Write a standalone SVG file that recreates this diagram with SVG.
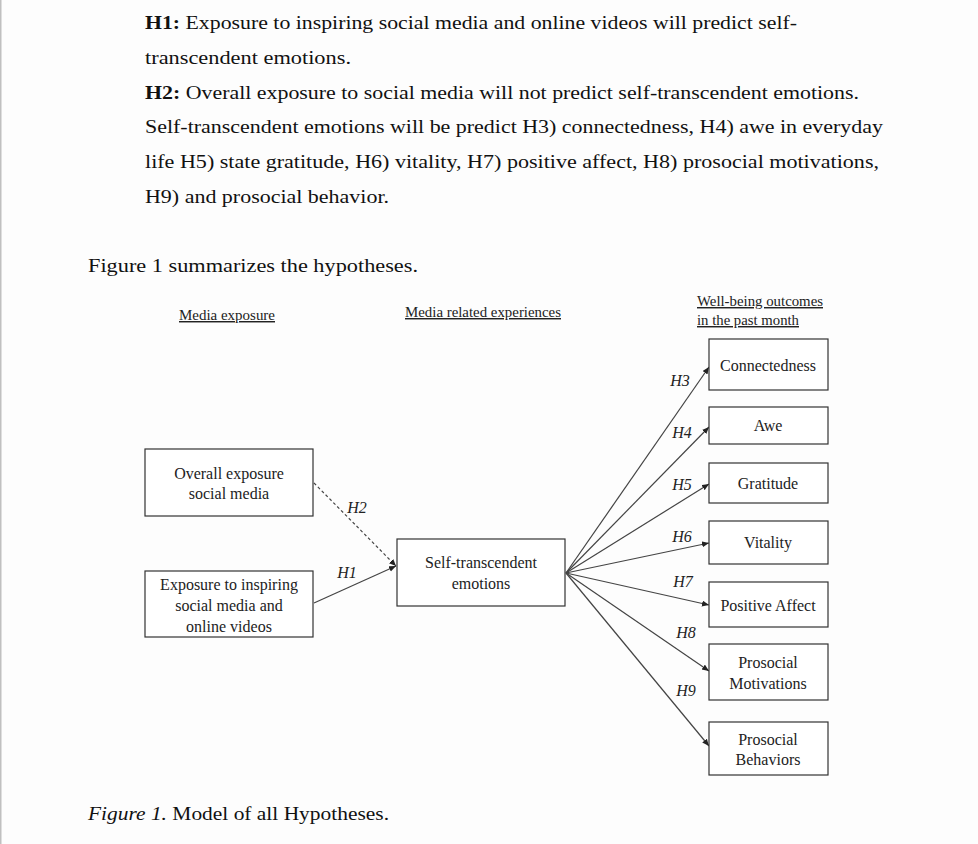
<svg xmlns="http://www.w3.org/2000/svg" width="978" height="844" viewBox="0 0 978 844">
<style>
.body{font-family:"Liberation Serif","Times New Roman",serif;font-size:19px;fill:#111}
.lbl{font-family:"Liberation Serif","Times New Roman",serif;font-size:16px;fill:#222;text-anchor:middle}
.hd{font-family:"Liberation Serif","Times New Roman",serif;font-size:14.5px;fill:#222;text-decoration:underline}
.h{font-family:"Liberation Serif","Times New Roman",serif;font-size:16px;font-style:italic;fill:#222;text-anchor:middle}
.box{fill:#fff;stroke:#333;stroke-width:1.2}
.ln{stroke:#444;stroke-width:1.2;fill:none}
</style>
<defs>
<marker id="ah" markerUnits="userSpaceOnUse" markerWidth="8" markerHeight="8" refX="7" refY="3" orient="auto">
<path d="M0,0 L7,3 L0,6 Z" fill="#222"/>
</marker>
</defs>
<rect x="0" y="0" width="978" height="844" fill="#fdfdfd"/>
<rect x="0" y="0" width="1.5" height="844" fill="#c0c0c0"/>

<g id="body-text">
<text class="body" x="145" y="29" textLength="652" lengthAdjust="spacingAndGlyphs"><tspan font-weight="bold">H1:</tspan> Exposure to inspiring social media and online videos will predict self-</text>
<text class="body" x="145" y="64" textLength="206" lengthAdjust="spacingAndGlyphs">transcendent emotions.</text>
<text class="body" x="145" y="99" textLength="714" lengthAdjust="spacingAndGlyphs"><tspan font-weight="bold">H2:</tspan> Overall exposure to social media will not predict self-transcendent emotions.</text>
<text class="body" x="145" y="133" textLength="738" lengthAdjust="spacingAndGlyphs">Self-transcendent emotions will be predict H3) connectedness, H4) awe in everyday</text>
<text class="body" x="145" y="168" textLength="734" lengthAdjust="spacingAndGlyphs">life H5) state gratitude, H6) vitality, H7) positive affect, H8) prosocial motivations,</text>
<text class="body" x="145" y="203" textLength="244" lengthAdjust="spacingAndGlyphs">H9) and prosocial behavior.</text>
<text class="body" x="88" y="272" textLength="330" lengthAdjust="spacingAndGlyphs">Figure 1 summarizes the hypotheses.</text>
<text class="body" x="88" y="820" textLength="301" lengthAdjust="spacingAndGlyphs"><tspan font-style="italic">Figure 1.</tspan> Model of all Hypotheses.</text>
</g>

<g id="headers">
<text class="hd" x="179" y="320" textLength="96" lengthAdjust="spacingAndGlyphs">Media exposure</text>
<text class="hd" x="405" y="317" textLength="156" lengthAdjust="spacingAndGlyphs">Media related experiences</text>
<text class="hd" x="697" y="306" textLength="126" lengthAdjust="spacingAndGlyphs">Well-being outcomes</text>
<text class="hd" x="697" y="325" textLength="102" lengthAdjust="spacingAndGlyphs">in the past month</text>
</g>

<g id="connectors">
<line class="ln" x1="314" y1="483" x2="396" y2="566" stroke-dasharray="3,2.5" marker-end="url(#ah)"/>
<line class="ln" x1="314" y1="603" x2="396" y2="566" marker-end="url(#ah)"/>
<line class="ln" x1="566" y1="573" x2="709" y2="367" marker-end="url(#ah)"/>
<line class="ln" x1="566" y1="573" x2="709" y2="427" marker-end="url(#ah)"/>
<line class="ln" x1="566" y1="573" x2="709" y2="484" marker-end="url(#ah)"/>
<line class="ln" x1="566" y1="573" x2="709" y2="543" marker-end="url(#ah)"/>
<line class="ln" x1="566" y1="573" x2="709" y2="605" marker-end="url(#ah)"/>
<line class="ln" x1="566" y1="573" x2="709" y2="671" marker-end="url(#ah)"/>
<line class="ln" x1="566" y1="573" x2="709" y2="746" marker-end="url(#ah)"/>
<text class="h" x="357" y="513">H2</text>
<text class="h" x="347" y="578">H1</text>
<text class="h" x="680" y="386">H3</text>
<text class="h" x="682" y="438">H4</text>
<text class="h" x="682" y="490">H5</text>
<text class="h" x="682" y="542">H6</text>
<text class="h" x="683" y="587">H7</text>
<text class="h" x="686" y="638">H8</text>
<text class="h" x="686" y="696">H9</text>
</g>

<g id="overall">
<rect class="box" x="145" y="449" width="168" height="67"/>
<text class="lbl" x="229" y="479">Overall exposure</text>
<text class="lbl" x="229" y="499">social media</text>
</g>
<g id="inspiring">
<rect class="box" x="145" y="571" width="168" height="66"/>
<text class="lbl" x="229" y="590">Exposure to inspiring</text>
<text class="lbl" x="229" y="611">social media and</text>
<text class="lbl" x="229" y="632">online videos</text>
</g>
<g id="ste">
<rect class="box" x="397" y="539" width="168" height="67"/>
<text class="lbl" x="481" y="568">Self-transcendent</text>
<text class="lbl" x="481" y="589">emotions</text>
</g>
<g id="connectedness">
<rect class="box" x="709" y="339" width="119" height="51"/>
<text class="lbl" x="768" y="371">Connectedness</text>
</g>
<g id="awe">
<rect class="box" x="709" y="407" width="119" height="37"/>
<text class="lbl" x="768" y="431">Awe</text>
</g>
<g id="gratitude">
<rect class="box" x="709" y="463" width="119" height="40"/>
<text class="lbl" x="768" y="489">Gratitude</text>
</g>
<g id="vitality">
<rect class="box" x="709" y="521" width="119" height="43"/>
<text class="lbl" x="768" y="548">Vitality</text>
</g>
<g id="positive">
<rect class="box" x="709" y="582" width="119" height="45"/>
<text class="lbl" x="768" y="611">Positive Affect</text>
</g>
<g id="motivations">
<rect class="box" x="709" y="644" width="119" height="56"/>
<text class="lbl" x="768" y="668">Prosocial</text>
<text class="lbl" x="768" y="689">Motivations</text>
</g>
<g id="behaviors">
<rect class="box" x="709" y="722" width="119" height="53"/>
<text class="lbl" x="768" y="745">Prosocial</text>
<text class="lbl" x="768" y="765">Behaviors</text>
</g>
</svg>
